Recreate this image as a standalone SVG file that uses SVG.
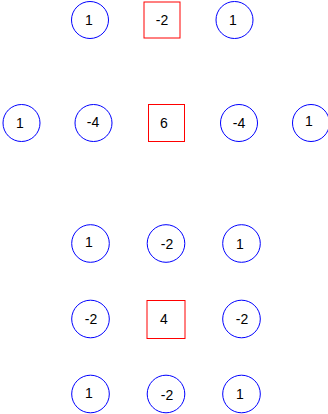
<svg xmlns="http://www.w3.org/2000/svg" width="328" height="414" viewBox="0 0 328 414">
<style>
.c{fill:#fff;stroke:#0000ff;stroke-width:1}
.s{fill:#fff;stroke:#ff0000;stroke-width:1}
text{font-family:"Liberation Sans",Arial,sans-serif;font-size:14px;fill:#000;text-anchor:middle;dominant-baseline:central}
</style>
<rect width="328" height="414" fill="#fff"/>
<g id="connectors"></g>
<g id="t1"><circle class="c" cx="90" cy="20" r="18.5"/><text x="89" y="20">1</text></g>
<g id="t2"><rect class="s" x="144" y="2" width="36" height="36"/><text x="162" y="20">-2</text></g>
<g id="t3"><circle class="c" cx="234.5" cy="20" r="18.5"/><text x="233" y="20">1</text></g>
<g id="m1"><circle class="c" cx="21.5" cy="123" r="18.5"/><text x="20" y="123">1</text></g>
<g id="m2"><circle class="c" cx="93.5" cy="123" r="18.5"/><text x="93" y="122">-4</text></g>
<g id="m3"><rect class="s" x="148.5" y="104.5" width="36" height="37"/><text x="164" y="123">6</text></g>
<g id="m4"><circle class="c" cx="239" cy="123" r="18.5"/><text x="239" y="123">-4</text></g>
<g id="m5"><circle class="c" cx="311" cy="123" r="18.5"/><text x="309" y="121">1</text></g>
<g id="b1"><circle class="c" cx="90.5" cy="243.5" r="18.8"/><text x="89" y="242">1</text></g>
<g id="b2"><circle class="c" cx="166" cy="243.5" r="18.8"/><text x="167" y="244">-2</text></g>
<g id="b3"><circle class="c" cx="241.5" cy="243.5" r="18.8"/><text x="240" y="244">1</text></g>
<g id="b4"><circle class="c" cx="90.5" cy="319" r="18.8"/><text x="91" y="319">-2</text></g>
<g id="b5"><rect class="s" x="147" y="300.5" width="38" height="38"/><text x="164" y="319">4</text></g>
<g id="b6"><circle class="c" cx="241.5" cy="319" r="18.8"/><text x="242" y="319">-2</text></g>
<g id="b7"><circle class="c" cx="90.5" cy="394" r="18.8"/><text x="89" y="393">1</text></g>
<g id="b8"><circle class="c" cx="166" cy="394" r="18.8"/><text x="167" y="395">-2</text></g>
<g id="b9"><circle class="c" cx="241.5" cy="394" r="18.8"/><text x="240" y="394">1</text></g>
</svg>
